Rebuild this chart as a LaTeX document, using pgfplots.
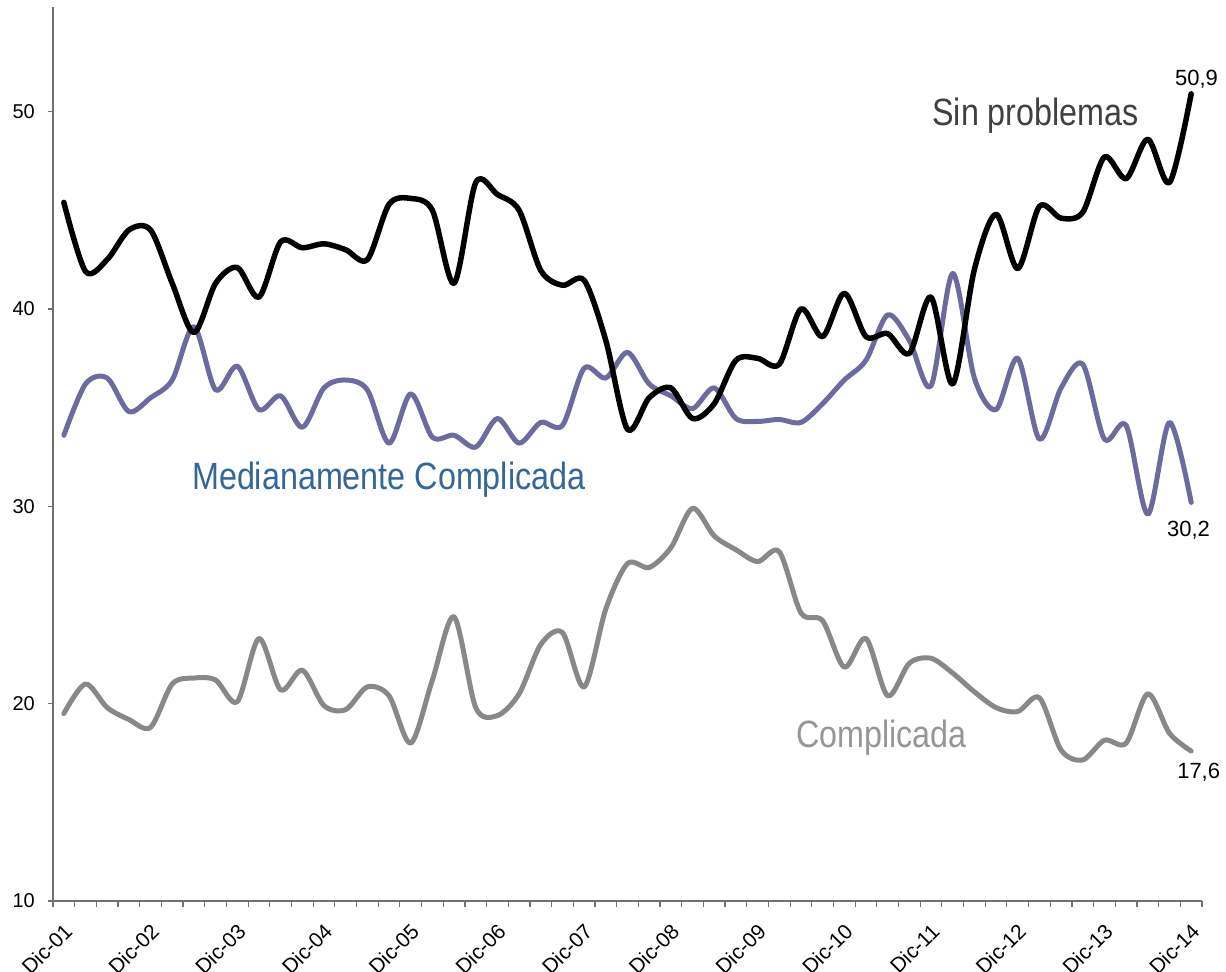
\documentclass[border=0pt]{standalone}
\usepackage{fontspec}
\setmainfont{Liberation Sans}
\newfontfamily\narrowfont[FakeStretch=0.85]{Liberation Sans}
\usepackage{pgfplots}
\pgfplotsset{compat=1.18}
\usepackage{pgfplotstable}

\definecolor{medc}{HTML}{6B6B9F}
\definecolor{comc}{HTML}{888888}
\definecolor{medtxt}{HTML}{336699}
\definecolor{sintxt}{HTML}{404040}
\definecolor{comtxt}{HTML}{969696}
\definecolor{axc}{HTML}{707070}

\pgfplotstableread{
i S M C
0 45.4 33.6 19.5
1 41.9 36.2 21.0
2 42.5 36.5 19.8
3 44.0 34.8 19.2
4 44.0 35.5 18.8
5 41.3 36.4 21.0
6 38.8 39.1 21.3
7 41.3 35.9 21.2
8 42.1 37.1 20.1
9 40.6 34.9 23.3
10 43.4 35.6 20.7
11 43.1 34.0 21.7
12 43.3 36.0 19.9
13 43.0 36.4 19.7
14 42.5 35.9 20.85
15 45.3 33.2 20.4
16 45.6 35.7 18.0
17 45.0 33.5 21.2
18 41.3 33.6 24.4
19 46.4 33.0 19.8
20 45.8 34.45 19.4
21 45.0 33.2 20.5
22 41.95 34.25 23.0
23 41.2 34.1 23.6
24 41.45 37.0 20.85
25 38.4 36.5 24.8
26 33.9 37.8 27.1
27 35.5 36.2 26.9
28 36.0 35.6 27.9
29 34.45 34.95 29.9
30 35.2 36.0 28.5
31 37.4 34.45 27.8
32 37.5 34.3 27.2
33 37.2 34.4 27.7
34 40.0 34.25 24.6
35 38.6 35.2 24.2
36 40.8 36.4 21.85
37 38.6 37.4 23.3
38 38.75 39.7 20.4
39 37.75 38.4 22.05
40 40.6 36.1 22.3
41 36.2 41.8 21.55
42 42.0 36.5 20.6
43 44.8 34.9 19.8
44 42.05 37.5 19.6
45 45.2 33.4 20.3
46 44.6 36.0 17.65
47 44.9 37.2 17.15
48 47.7 33.4 18.15
49 46.6 34.1 18.0
50 48.6 29.6 20.5
51 46.4 34.25 18.5
52 50.9 30.2 17.6
}\data

\begin{document}
\begin{tikzpicture}
\begin{axis}[
  scale only axis, width=1149pt, height=894pt,
  xmin=-0.5, xmax=52.5, ymin=10, ymax=55.3,
  axis x line*=bottom, axis y line*=left,
  axis line style={axc, line width=1.2pt},
  xtick={0,4,...,52},
  xticklabels={Dic-01,Dic-02,Dic-03,Dic-04,Dic-05,Dic-06,Dic-07,Dic-08,Dic-09,Dic-10,Dic-11,Dic-12,Dic-13,Dic-14},
  minor xtick={-0.5,0.5,...,52.5},
  ytick={10,20,30,40,50},
  tick align=outside,
  every major x tick/.style={draw=none},
  minor tick length=6pt, major tick length=5pt,
  tick style={axc, line width=1.2pt},
  xticklabel style={xshift=-1pt, yshift=-16pt, rotate=45, anchor=north east, font=\fontsize{21}{21}\selectfont, inner sep=0pt},
  yticklabel style={font=\fontsize{20}{20}\selectfont, inner sep=0pt, xshift=-13pt},
  /pgf/number format/assume math mode=true,
  clip=false,
]
\addplot[comc, line width=5pt, smooth, tension=0.5, line join=round, line cap=round] table[x=i,y=C]{\data};
\addplot[medc, line width=5pt, smooth, tension=0.5, line join=round, line cap=round] table[x=i,y=M]{\data};
\addplot[black, line width=5.5pt, smooth, tension=0.5, line join=round, line cap=round] table[x=i,y=S]{\data};

\node[anchor=base west, inner sep=0, font=\fontsize{22}{22}\selectfont] at (axis cs:51.25,51.32) {50,9};
\node[anchor=base west, inner sep=0, font=\fontsize{22}{22}\selectfont] at (axis cs:50.88,28.48) {30,2};
\node[anchor=base west, inner sep=0, font=\fontsize{22}{22}\selectfont] at (axis cs:51.35,16.23) {17,6};

\node[anchor=base west, inner sep=0, text=sintxt, font=\narrowfont\fontsize{38}{38}\selectfont] at (axis cs:40.05,49.29) {Sin problemas};
\node[anchor=base west, inner sep=0, text=medtxt, font=\narrowfont\fontsize{38}{38}\selectfont] at (axis cs:5.91,30.86) {Medianamente Complicada};
\node[anchor=base west, inner sep=0, text=comtxt, font=\narrowfont\fontsize{38}{38}\selectfont] at (axis cs:33.77,17.80) {Complicada};
\end{axis}
\pgfresetboundingbox
\path[use as bounding box] ([shift={(-53pt,-70pt)}]current axis.south west) rectangle ([shift={(24pt,7pt)}]current axis.north east);
\end{tikzpicture}
\end{document}
